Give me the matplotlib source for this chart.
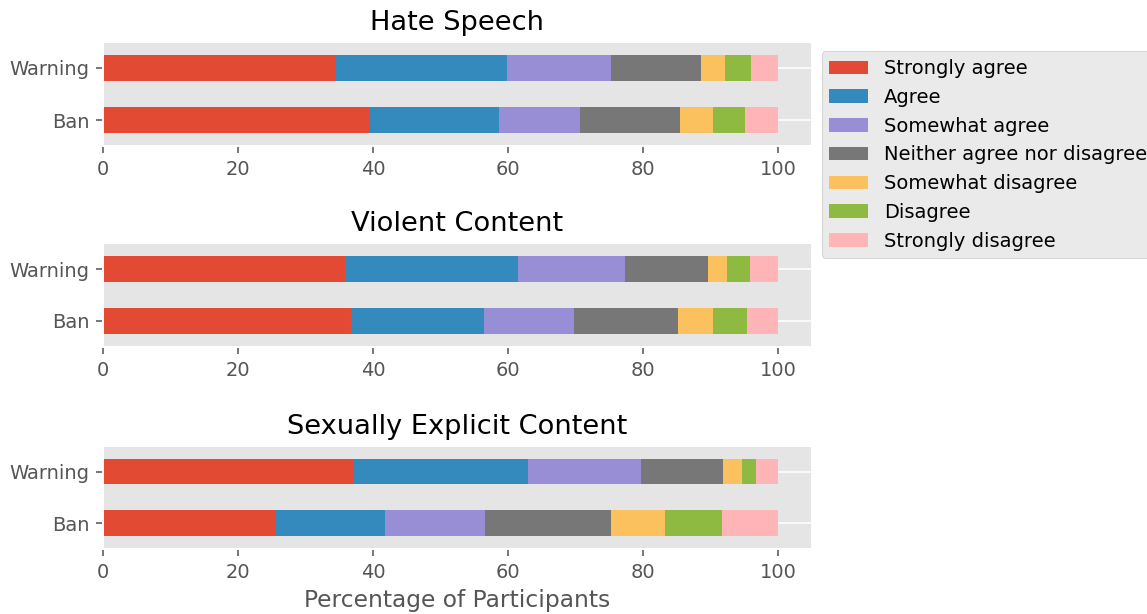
import matplotlib
matplotlib.use("Agg")
import matplotlib.pyplot as plt
import numpy as np

plt.style.use("ggplot")

responses = ["Strongly agree", "Agree", "Somewhat agree", "Neither agree nor disagree",
             "Somewhat disagree", "Disagree", "Strongly disagree"]
actions = ["Ban", "Warning"]
titles = ["Hate Speech", "Violent Content", "Sexually Explicit Content"]

# percentages per response, rows = [Ban, Warning]
hate = [[39.6, 19.1, 12.0, 14.7, 4.9, 4.8, 4.9],
        [34.5, 25.4, 15.3, 13.4, 3.5, 3.9, 4.0]]
violent = [[36.7, 19.7, 13.3, 15.4, 5.2, 5.1, 4.6],
           [35.9, 25.6, 15.8, 12.3, 2.8, 3.4, 4.2]]
sexual = [[25.6, 16.2, 14.8, 18.7, 8.0, 8.4, 8.3],
          [37.2, 25.7, 16.8, 12.2, 2.7, 2.2, 3.2]]
panels = [hate, violent, sexual]

colors = ["#E24A33", "#348ABD", "#988ED5", "#777777", "#FBC15E", "#8EBA42", "#FFB5B8"]

fig = plt.figure(figsize=(1147 / 140, 614 / 140), dpi=140)
boxes = [[0.0898, 0.762, 0.618, 0.170],
         [0.0898, 0.435, 0.618, 0.169],
         [0.0898, 0.106, 0.618, 0.168]]

axes = []
for box, data, title in zip(boxes, panels, titles):
    ax = fig.add_axes(box)
    vals = np.array(data)
    y = np.arange(len(actions))
    left = np.zeros(len(actions))
    for j, resp in enumerate(responses):
        ax.barh(y, vals[:, j], height=0.5, left=left, color=colors[j], label=resp)
        left += vals[:, j]
    ax.set_yticks(y)
    ax.set_yticklabels(actions)
    ax.set_ylim(-0.5, 1.5)
    ax.set_xlim(0, 105)
    ax.set_xticks([0, 20, 40, 60, 80, 100])
    ax.grid(axis="x", visible=False)
    ax.set_title(title, fontsize=14, color="black")
    axes.append(ax)

axes[-1].set_xlabel("Percentage of Participants", fontsize=12)
axes[0].legend(bbox_to_anchor=(1, 1), loc="upper left", fontsize=10)

plt.savefig("out.png", dpi=140)
plt.close()
